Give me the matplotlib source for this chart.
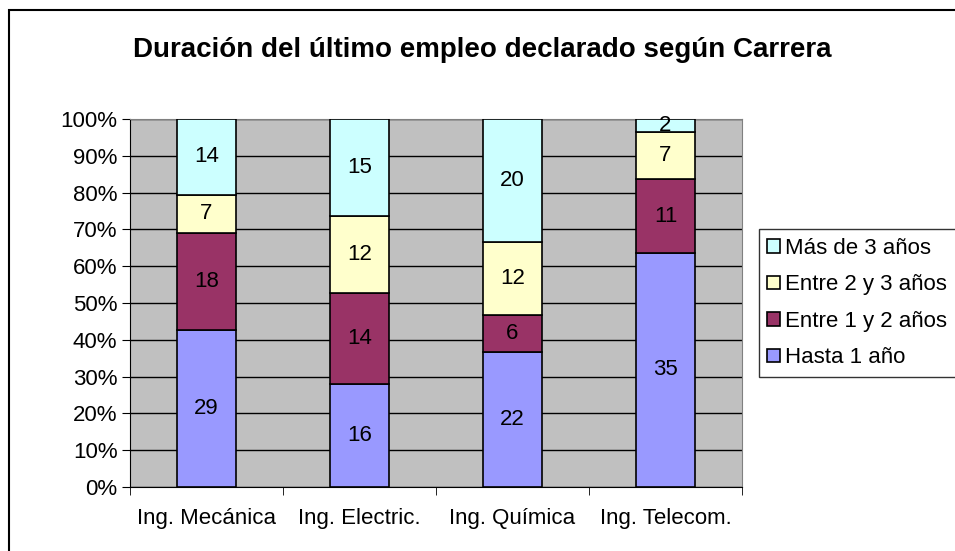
import numpy as np

import matplotlib
matplotlib.use('Agg')  #no display, png output only
import matplotlib.pyplot as plt
from matplotlib.patches import Rectangle

plt.rcParams['font.family'] = ['Liberation Sans', 'DejaVu Sans']

carreras = ["Ing. Mecánica", "Ing. Electric.", "Ing. Química", "Ing. Telecom."]

series = ["Hasta 1 año", "Entre 1 y 2 años", "Entre 2 y 3 años", "Más de 3 años"]
colors = ["#9999FF", "#993366", "#FFFFCC", "#CCFFFF"]

counts = np.array([[29, 16, 22, 35],   # hasta 1
                   [18, 14, 6, 11],    # 1 a 2
                   [7, 12, 12, 7],     # 2 a 3
                   [14, 15, 20, 2]])   # mas de 3

perc = counts / counts.sum(axis=0) * 100.0

fig = plt.figure(figsize=(9.55, 5.51), dpi=100)
fig.patches.append(Rectangle((0.0094, -0.05), 1.2, 1.032, transform=fig.transFigure,
                             fill=False, edgecolor='black', linewidth=1.5))
ax = fig.add_axes([0.136, 0.116, 0.641, 0.668])
ax.set_facecolor('#C0C0C0')

x = np.arange(len(carreras))
bottom = np.zeros(len(carreras))
for i in range(len(series)):
    ax.bar(x, perc[i], 0.39, bottom=bottom, color=colors[i], edgecolor='black',
           linewidth=1.2, label=series[i], zorder=3)
    for j in range(len(carreras)):
        ax.text(x[j], bottom[j] + perc[i][j] / 2.0, str(counts[i][j]), ha='center', va='center',
                fontsize=16, zorder=4)
    bottom = bottom + perc[i]

ax.set_xlim(-0.5, len(carreras) - 0.5)
ax.set_ylim(0, 100)
ax.set_yticks(np.arange(0, 101, 10))
ax.set_yticklabels([str(v) + "%" for v in range(0, 101, 10)], fontsize=16)
ax.yaxis.grid(True, color='black', linewidth=1.0, zorder=1)
ax.set_axisbelow(True)

ax.set_xticks(x)
ax.set_xticklabels(carreras, fontsize=16)
ax.tick_params(axis='x', length=0, pad=15)
ax.set_xticks(np.arange(-0.5, len(carreras), 1.0), minor=True)
ax.tick_params(axis='x', which='minor', length=6, color='black')
ax.tick_params(axis='y', length=6, color='black', pad=3)

for s in ['top', 'right']:
    ax.spines[s].set_color('#808080')
ax.spines['left'].set_color('black')
ax.spines['bottom'].set_color('black')

fig.text(0.505, 0.91, "Duración del último empleo declarado según Carrera", ha='center', va='center',
         fontsize=20, fontweight='bold')

handles, labels = ax.get_legend_handles_labels()
leg = ax.legend(handles[::-1], labels[::-1], loc='center left', bbox_to_anchor=(1.027, 0.5),
                fontsize=16, frameon=True, fancybox=False, edgecolor='black',
                handlelength=0.55, handleheight=0.55, handletextpad=0.25, labelspacing=0.7,
                borderpad=0.4, borderaxespad=0.0)
leg.get_frame().set_linewidth(1.0)

plt.savefig("out.png", dpi=100)
